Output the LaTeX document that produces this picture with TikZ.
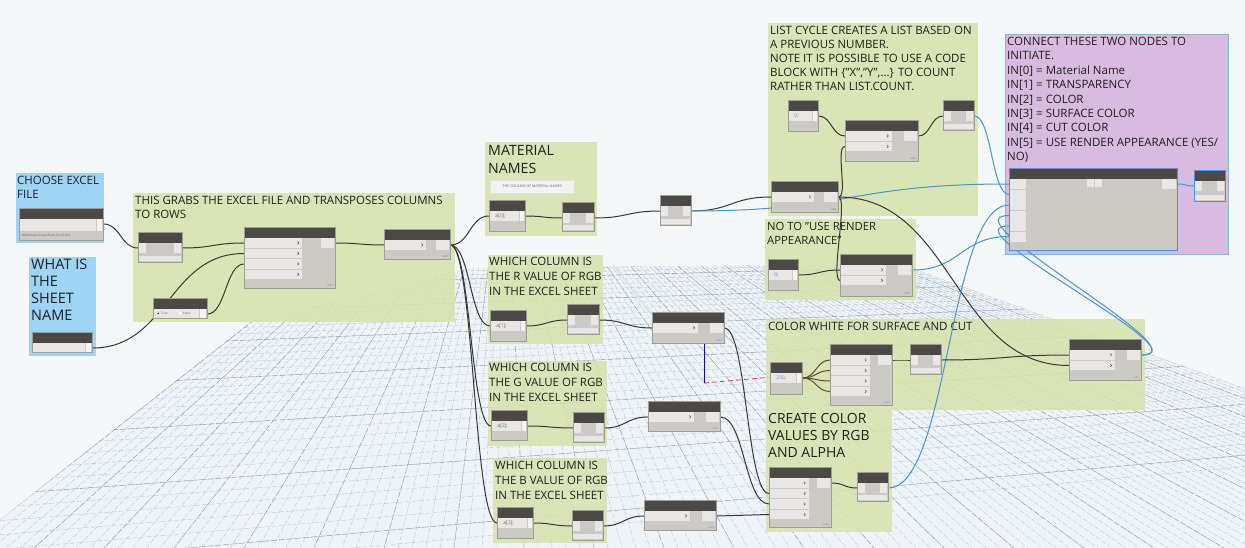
\documentclass[tikz,border=0pt]{standalone}
\usepackage{fontspec}
\setmainfont{Open Sans}
\usepackage{tikz}
\usetikzlibrary{calc}
\pgfdeclarelayer{bg}
\pgfdeclarelayer{wires}
\pgfsetlayers{bg,wires,main}

\definecolor{canvas}{RGB}{246,247,248}
\definecolor{gridf}{RGB}{239,244,248}
\definecolor{gridc}{RGB}{178,198,214}
\definecolor{gridm}{RGB}{150,165,180}
\definecolor{grpg}{RGB}{214,227,172}
\definecolor{grpb}{RGB}{158,212,246}
\definecolor{grpp}{RGB}{216,188,223}
\definecolor{dhead}{RGB}{75,72,69}
\definecolor{dbody}{RGB}{205,201,197}
\definecolor{drow}{RGB}{233,231,228}
\definecolor{dedge}{RGB}{160,156,152}
\definecolor{wdark}{RGB}{55,55,55}
\definecolor{wblue}{RGB}{70,150,212}
\definecolor{wbrown}{RGB}{95,78,50}
\definecolor{seln}{RGB}{85,145,210}

\newcommand{\fs}[2]{\fontsize{#1}{#2}\selectfont}
\newcommand{\cnum}[1]{\textcolor{wblue}{#1}}
% corners of the node being filled, plus its dark title bar
\newcommand{\ppbox}{%
  \coordinate (pa) at (path picture bounding box.north west);
  \coordinate (pb) at (path picture bounding box.north east);
  \coordinate (pc) at (path picture bounding box.south east);
  \coordinate (pd) at (path picture bounding box.south west);
  \fill[dhead] (pa) rectangle ([yshift=-10.5pt]pb);}
% dynamo wire: horizontal tangents at both ports
\newcommand{\wire}[3][wdark]{%
  \draw[wire,#1] let \p1=(#2), \p2=(#3), \n1={max(abs(\x2-\x1)/2,10pt)} in
    (\p1) .. controls +(\n1,0) and +(-\n1,0) .. (\p2);}

\begin{document}
\begin{tikzpicture}[x=1pt,y=-1pt,
  sz/.style 2 args={minimum width=#1pt,minimum height=#2pt},
  dyn/.style={draw=dedge,fill=dbody,line width=0.4pt,inner sep=0pt,anchor=north west,
    path picture={\ppbox}},
  inner/.style={inner sep=0pt,minimum width=0pt,minimum height=0pt,draw=none,fill=none},
  lacef/.style={inner,anchor=south east,font=\fs{3}{3},text=black!45},
  tinyf/.style={inner,anchor=west,font=\fs{3.2}{3.2},text=black!60},
  codef/.style={inner,anchor=west,font=\fs{5}{5},text=black!60},
  inrows/.style={path picture={\ppbox
    \foreach \r in {1,...,#1}{
      \fill[drow] ($(pa)+(1pt,{-11pt-(\r-1)*10.5pt})$) rectangle
                  ($(pa)!0.64!(pb)+(0pt,{-20.5pt-(\r-1)*10.5pt})$);
      \draw[dhead,line width=0.45pt] ($(pa)!0.64!(pb)+(-5pt,{-14.3pt-(\r-1)*10.5pt})$)
        -- ++(1.4pt,-1.4pt) -- ++(-1.4pt,-1.4pt);
    }
    \fill[drow] ($(pb)+(-14pt,-11pt)$) rectangle ($(pb)+(-1pt,-21pt)$);
    \node[lacef] at ($(pc)+(-1.5pt,1.2pt)$) {auto};}},
  wat/.style={dyn,path picture={\ppbox
    \fill[drow] ($(pa)+(1pt,-11pt)$) rectangle ($(pa)+(8pt,-21pt)$);
    \fill[drow] ($(pb)+(-8pt,-11pt)$) rectangle ($(pb)+(-1pt,-21pt)$);
    \fill[drow] ($(pd)+(1pt,6pt)$) rectangle ($(pc)+(-1pt,1pt)$);}},
  cbk/.style={dyn,path picture={\ppbox
    \fill[drow] ($(pa)+(1pt,-11pt)$) rectangle ($(pb)+(-6pt,-21pt)$);
    \fill[drow!50!white] ($(pb)+(-5pt,-11pt)$) rectangle ($(pb)+(-1pt,-21pt)$);
    \node[codef] at ($(pa)+(6pt,-16pt)$) {#1};}},
  fpn/.style={dyn,path picture={\ppbox
    \fill[drow] ($(pa)+(1pt,-11pt)$) rectangle ($(pb)+(-7pt,-23pt)$);
    \fill[drow!50!white] ($(pb)+(-6pt,-11pt)$) rectangle ($(pb)+(-1pt,-23pt)$);
    \node[tinyf] at ($(pd)+(2pt,4.5pt)$) {\textbackslash Materials-Create-from-Excel.xlsx};}},
  strn/.style={dyn,path picture={\ppbox
    \fill[drow] ($(pa)+(1pt,-11pt)$) rectangle ($(pb)+(-7pt,-19.5pt)$);
    \fill[drow!50!white] ($(pb)+(-6pt,-11pt)$) rectangle ($(pb)+(-1pt,-19.5pt)$);}},
  booln/.style={dyn,path picture={\ppbox
    \fill[drow] ($(pa)+(1pt,-11pt)$) rectangle ($(pb)+(-8pt,-19.5pt)$);
    \fill[drow!50!white] ($(pb)+(-7pt,-11pt)$) rectangle ($(pb)+(-1pt,-19.5pt)$);
    \fill[black] ($(pa)+(5pt,-15.2pt)$) circle (0.8pt);
    \node[tinyf] at ($(pa)+(7.5pt,-15.2pt)$) {True};
    \fill[white] ($(pa)+(27pt,-15.2pt)$) circle (1.4pt);
    \node[tinyf] at ($(pa)+(29.5pt,-15.2pt)$) {False};}},
  bign/.style={dyn,draw=seln,line width=0.8pt,path picture={\ppbox
    \foreach \r in {1,...,6}
      \fill[drow] ($(pa)+(1pt,{-11pt-(\r-1)*10.5pt})$) rectangle ($(pa)+(17pt,{-20.8pt-(\r-1)*10.5pt})$);
    \fill[drow] ($(pb)+(-15pt,-11pt)$) rectangle ($(pb)+(-1pt,-21pt)$);
    \fill[drow] ($(pa)!0.46!(pb)+(0pt,-11pt)$) rectangle ++(7pt,-8pt);
    \fill[drow] ($(pa)!0.51!(pb)+(0pt,-11pt)$) rectangle ++(7pt,-8pt);}},
  notebox/.style={anchor=north west,inner sep=0pt,fill=black!5,draw=black!12,
    font=\fs{3.6}{4},text=black!60},
  gtxt/.style={anchor=north west,inner sep=0pt,align=left,text=black!88},
  wire/.style={color=wdark,line width=1pt},
  gridl/.style={draw=gridc,line width=0.35pt,dash pattern=on 5pt off 2pt},
  gridj/.style={draw=gridm,line width=0.45pt,dash pattern=on 6pt off 2pt}]

\useasboundingbox (0,0) rectangle (1245,548);

\begin{pgfonlayer}{bg}
\fill[canvas] (0,0) rectangle (1245,548);
% the floor grid of the background view, in perspective
\begin{scope}
  \clip (0,520) -- (250,322) -- (470,268) -- (900,264) -- (1245,388) -- (1245,548) -- (0,548) -- cycle;
  \fill[gridf] (0,0) rectangle (1245,548);
  \foreach \k in {0,...,124} \draw[gridl] (506,122) -- ({-36+14*\k},548);
  \foreach \k in {0,5,...,124} \draw[gridj] (506,122) -- ({-36+14*\k},548);
  \foreach \k in {0,...,36} \draw[gridl] (0,{170+100*1.04^\k}) -- (1245,{170+72.3*1.04^\k});
  \foreach \k in {0,5,...,36} \draw[gridj] (0,{170+100*1.04^\k}) -- (1245,{170+72.3*1.04^\k});
\end{scope}
% axes of the view
\draw[green!45!black!30,line width=0.4pt] (613,265) -- (704,383);
\draw[red!75,line width=0.8pt,dash pattern=on 5pt off 3pt] (704,383) -- (1060,352);
\draw[blue!85!black,line width=1pt] (704,343) -- (704,383);

% groups
\fill[grpb] (16,173) rectangle (104,243);
\fill[grpb] (29,257) rectangle (96,356);
\fill[grpg,fill opacity=0.88] (133,193) rectangle (455,322);
\fill[grpg,fill opacity=0.88] (485,142) rectangle (597,236);
\fill[grpg,fill opacity=0.88] (768,23) rectangle (978,216);
\fill[grpp,draw=seln!70,line width=0.6pt] (1005,34) rectangle (1228,254);
\fill[grpg,fill opacity=0.88] (765,219) rectangle (916,300);
\fill[grpg,fill opacity=0.85] (488,255) rectangle (603,344);
\fill[grpg,fill opacity=0.85] (488,361) rectangle (607,446);
\fill[grpg,fill opacity=0.85] (493,458) rectangle (607,543);
\fill[grpg,fill opacity=0.85] (766,319) rectangle (1145,410);
\fill[grpg,fill opacity=0.85] (766,410) rectangle (892,532);

\node[gtxt,font=\fs{11.5}{14}] (tfile) at (17,176) {CHOOSE EXCEL\\FILE};
\node[gtxt,font=\fs{14.5}{17}] (tsheet) at (31,259) {WHAT IS\\THE\\SHEET\\NAME};
\node[gtxt,font=\fs{11.5}{14}] (tread) at (135,196) {THIS GRABS THE EXCEL FILE AND TRANSPOSES COLUMNS\\TO ROWS};
\node[gtxt,font=\fs{14.2}{18}] (tnames) at (488,145) {MATERIAL\\NAMES};
\node[gtxt,font=\fs{11.5}{14}] (tlist) at (770,26) {LIST CYCLE CREATES A LIST BASED ON\\A PREVIOUS NUMBER.\\NOTE IT IS POSSIBLE TO USE A CODE\\BLOCK WITH \{"X","Y",...\} TO COUNT\\RATHER THAN LIST.COUNT.};
\node[gtxt,font=\fs{11.5}{14.4}] (tconn) at (1007,37) {CONNECT THESE TWO NODES TO\\INITIATE.\\IN[0] = Material Name\\IN[1] = TRANSPARENCY\\IN[2] = COLOR\\IN[3] = SURFACE COLOR\\IN[4] = CUT COLOR\\IN[5] = USE RENDER APPEARANCE (YES/\\NO)};
\node[gtxt,font=\fs{11.3}{14}] (tnoto) at (767,222) {NO TO "USE RENDER\\APPEARANCE"};
\node[gtxt,font=\fs{11.5}{15}] (tred) at (489,257) {WHICH COLUMN IS\\THE R VALUE OF RGB\\IN THE EXCEL SHEET};
\node[gtxt,font=\fs{11.5}{15}] (tgreen) at (489,363) {WHICH COLUMN IS\\THE G VALUE OF RGB\\IN THE EXCEL SHEET};
\node[gtxt,font=\fs{11.5}{15}] (tblue) at (495,461) {WHICH COLUMN IS\\THE B VALUE OF RGB\\IN THE EXCEL SHEET};
\node[gtxt,font=\fs{11.5}{14}] (twhite) at (768,322) {COLOR WHITE FOR SURFACE AND CUT};
\node[gtxt,font=\fs{14}{17}] (tcreate) at (768,413) {CREATE COLOR\\VALUES BY RGB\\AND ALPHA};
\end{pgfonlayer}

% nodes
\node[fpn,sz={84}{32}] (fpath) at (19,208) {};
\node[strn,sz={60}{20}] (shname) at (32,332) {};
\node[wat,sz={44}{30}] (ffp) at (138,232) {};
\node[booln,sz={54}{20}] (bool) at (153,298) {};
\node[dyn,inrows=4,sz={91}{61}] (xl) at (244,227) {};
\node[dyn,inrows=1,sz={66}{30}] (tr) at (384,229) {};
\node[notebox,sz={84}{13}] (mnote) at (490,180) {THE COLUMN OF MATERIAL NAMES};
\node[cbk={a[\cnum{0}];},sz={36}{31}] (cb0) at (489,200) {};
\node[wat,sz={32}{29}] (w0) at (562,202) {};
\node[wat,sz={31}{30}] (mid) at (660,195) {};
\node[cbk={\cnum{0};},sz={30}{31}] (cbc) at (788,100) {};
\node[dyn,inrows=2,sz={73}{41}] (cyc1) at (845,120) {};
\node[wat,sz={31}{30}] (w1) at (943,100) {};
\node[dyn,inrows=1,sz={67}{31}] (cnt) at (771,181) {};
\node[cbk={\cnum{0};},sz={30}{31}] (cbn) at (768,259) {};
\node[dyn,inrows=2,sz={72}{42}] (noto) at (840,254) {};
\node[bign,sz={168}{82}] (big) at (1009,168) {};
\node[wat,draw=seln,line width=0.8pt,sz={31}{31}] (bigo) at (1194,170) {};
\node[cbk={a[\cnum{1}];},sz={36}{31}] (cbr) at (490,310) {};
\node[wat,sz={32}{30}] (wr) at (567,304) {};
\node[dyn,inrows=1,sz={72}{31}] (nr) at (652,312) {};
\node[cbk={a[\cnum{2}];},sz={36}{30}] (cbg) at (491,410) {};
\node[wat,sz={31}{30}] (wg) at (573,412) {};
\node[dyn,inrows=1,sz={72}{30}] (ng) at (648,401) {};
\node[cbk={a[\cnum{3}];},sz={36}{31}] (cbb) at (497,507) {};
\node[wat,sz={31}{30}] (wb) at (572,510) {};
\node[dyn,inrows=1,sz={72}{30}] (nb) at (644,500) {};
\node[cbk={\cnum{255};},sz={32}{32}] (c255) at (770,362) {};
\node[dyn,inrows=4,sz={62}{61}] (argbw) at (830,344) {};
\node[wat,sz={31}{30}] (ww) at (910,344) {};
\node[dyn,inrows=2,sz={72}{41}] (cyc2) at (1069,339) {};
\node[dyn,inrows=4,sz={62}{60}] (argb) at (769,467) {};
\node[wat,sz={31}{29}] (wc) at (857,472) {};

% ports
\foreach \n in {fpath,shname,ffp,bool,xl,tr,cb0,w0,mid,cbc,cyc1,w1,cnt,cbn,noto,big,bigo,
                cbr,wr,nr,cbg,wg,ng,cbb,wb,nb,c255,argbw,ww,cyc2,argb,wc}{
  \coordinate (\n-o) at ([yshift=-16pt]\n.north east);
  \foreach \i in {1,...,6}
    \coordinate (\n-\i) at ([yshift={-16pt-(\i-1)*10.5pt}]\n.north west);
}

\begin{pgfonlayer}{wires}
\wire{fpath-o}{ffp-1}
\wire{ffp-o}{xl-1}
\wire{shname-o}{xl-2}
\wire{bool-o}{xl-3}
\wire{xl-o}{tr-1}
\foreach \t in {cb0,cbr,cbg,cbb} {\wire{tr-o}{\t-1}}
\wire{cb0-o}{w0-1}
\wire{w0-o}{mid-1}
\wire{mid-o}{cnt-1}
\wire[wblue]{mid-o}{big-1}
\wire{cbc-o}{cyc1-1}
\wire{cnt-o}{cyc1-2}
\wire{cyc1-o}{w1-1}
\wire[wblue]{w1-o}{big-2}
\wire{cbn-o}{noto-1}
\wire{cnt-o}{noto-2}
\wire[wblue]{noto-o}{big-6}
\wire{cnt-o}{cyc2-2}
\wire{cbr-o}{wr-1}
\wire{wr-o}{nr-1}
\wire{nr-o}{argb-2}
\wire{cbg-o}{wg-1}
\wire{wg-o}{ng-1}
\wire{ng-o}{argb-3}
\wire{cbb-o}{wb-1}
\wire{wb-o}{nb-1}
\wire{nb-o}{argb-4}
\wire{argb-o}{wc-1}
\wire[wblue]{wc-o}{big-3}
\foreach \i in {1,...,4} {\wire[wbrown]{c255-o}{argbw-\i}}
\wire{argbw-o}{ww-1}
\wire{ww-o}{cyc2-1}
\wire[wblue]{cyc2-o}{big-4}
\wire[wblue]{cyc2-o}{big-5}
\wire[wblue]{big-o}{bigo-1}
\end{pgfonlayer}
\end{tikzpicture}
\end{document}
